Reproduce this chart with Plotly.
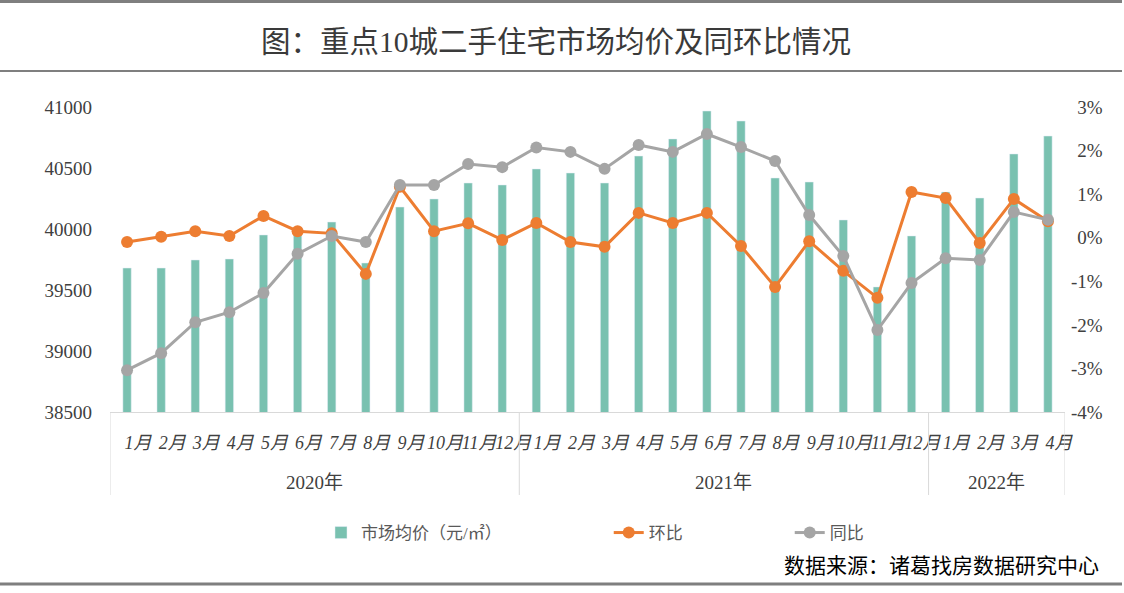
import plotly.graph_objects as go

years = ["2020年", "2021年", "2022年"]
year_counts = [12, 12, 4]
months = [f"{i}月" for i in range(1, 13)] * 2 + [f"{i}月" for i in range(1, 5)]

price = [39680, 39680, 39746, 39754, 39951, 39990, 40057, 39721, 40180, 40246, 40377, 40361,
         40492, 40459, 40377, 40598, 40738, 40967, 40885, 40418, 40385, 40074, 39525, 39943,
         40303, 40254, 40615, 40762]
mom = [-0.10, 0.02, 0.15, 0.04, 0.50, 0.15, 0.10, -0.83, 1.17, 0.15, 0.33, -0.05,
       0.34, -0.10, -0.21, 0.57, 0.34, 0.57, -0.19, -1.13, -0.08, -0.76, -1.38, 1.05,
       0.91, -0.12, 0.89, 0.38]
yoy = [-3.04, -2.65, -1.94, -1.71, -1.27, -0.37, 0.04, -0.10, 1.21, 1.21, 1.69, 1.62,
       2.07, 1.97, 1.58, 2.13, 1.97, 2.38, 2.08, 1.76, 0.52, -0.42, -2.12, -1.04,
       -0.47, -0.51, 0.59, 0.41]

left_ticks = [38500, 39000, 39500, 40000, 40500, 41000]
right_ticks = [-4, -3, -2, -1, 0, 1, 2, 3]
right_labels = [(f"{v}%" if v < 0 else "\u2004" + f"{v}%") for v in right_ticks]

xs = list(range(len(months)))
font_fam = "Liberation Serif, Noto Sans CJK SC, serif"
NB = "\u00a0"

fig = go.Figure()
fig.add_trace(go.Bar(x=xs, y=price, name="市场均价（元/㎡）" + NB * 24, marker_color="#79c1b0",
                     width=0.245, yaxis="y"))
fig.add_trace(go.Scatter(x=xs, y=mom, name="环比" + NB * 24, mode="lines+markers", yaxis="y2",
                         line=dict(color="#ed7d31", width=3),
                         marker=dict(size=12, color="#ed7d31")))
fig.add_trace(go.Scatter(x=xs, y=yoy, name="同比", mode="lines+markers", yaxis="y2",
                         line=dict(color="#a5a5a5", width=3),
                         marker=dict(size=12, color="#a5a5a5")))

W, H = 1124, 593
L, R, T, B = 110, 1065, 107, 412
pw, ph = R - L, B - T

def px(xp):
    return (xp - L) / pw

def py(yp):
    return (B - yp) / ph

shapes = [
    dict(type="line", xref="paper", yref="paper", x0=px(0), x1=px(1122), y0=py(1.5), y1=py(1.5),
         line=dict(color="#7f7f7f", width=3)),
    dict(type="line", xref="paper", yref="paper", x0=px(0), x1=px(1122), y0=py(71), y1=py(71),
         line=dict(color="#7f7f7f", width=2)),
    dict(type="line", xref="paper", yref="paper", x0=px(0), x1=px(1122), y0=py(584), y1=py(584),
         line=dict(color="#7f7f7f", width=3)),
]

# group dividers and year labels along the category axis
annotations = []
start = 0
bounds = [-0.5]
for yname, cnt in zip(years, year_counts):
    center = start + (cnt - 1) / 2
    annotations.append(dict(text=yname, xref="x", yref="paper", x=center, y=py(482),
                            showarrow=False, xanchor="center", yanchor="middle",
                            font=dict(size=19, color="#404040", family=font_fam)))
    start += cnt
    bounds.append(start - 0.5)
for b in bounds:
    shapes.append(dict(type="line", xref="x", yref="paper", x0=b, x1=b, y0=0, y1=py(495),
                       line=dict(color="#d9d9d9", width=1)))

annotations += [
    dict(text="图：重点10城二手住宅市场均价及同环比情况", xref="paper", yref="paper",
         x=px(556), y=py(42), showarrow=False, xanchor="center", yanchor="middle",
         font=dict(size=29.5, color="#3a3a3a", family=font_fam)),
    dict(text="数据来源：诸葛找房数据研究中心", xref="paper", yref="paper",
         x=px(1101), y=py(566), showarrow=False, xanchor="right", yanchor="middle",
         font=dict(size=21, color="#000000", family=font_fam)),
]

fig.update_layout(
    width=W, height=H,
    margin=dict(l=L, r=W - R, t=T, b=H - B, autoexpand=False),
    paper_bgcolor="white", plot_bgcolor="white",
    font=dict(family=font_fam, color="#595959", size=16),
    showlegend=True,
    legend=dict(orientation="h", x=px(321), xanchor="left", y=py(533), yanchor="middle",
                font=dict(size=17, color="#595959"), itemwidth=30),
    xaxis=dict(range=[-0.5, len(months) - 0.5], tickvals=xs, ticktext=months,
               showgrid=False, zeroline=False, showline=True, linecolor="#d9d9d9",
               linewidth=1, ticks="", tickangle=0, ticklabelstandoff=14, ticklabelshift=11,
               automargin=False,
               tickfont=dict(size=18, color="#404040", style="italic")),
    yaxis=dict(range=[38500, 41000], tickvals=left_ticks, tickformat="d", showgrid=False,
               zeroline=False, showline=False, ticks="", automargin=False,
               ticklabelstandoff=17, tickfont=dict(size=19, color="#404040")),
    yaxis2=dict(range=[-4, 3], tickvals=right_ticks, ticktext=right_labels, overlaying="y",
                side="right", showgrid=False, zeroline=False, showline=False, ticks="",
                automargin=False, ticklabelstandoff=5,
                tickfont=dict(size=19, color="#404040")),
    shapes=shapes, annotations=annotations,
)

fig.write_html("out.html", config={"displayModeBar": False},
               post_script="document.body.style.margin='0';")
